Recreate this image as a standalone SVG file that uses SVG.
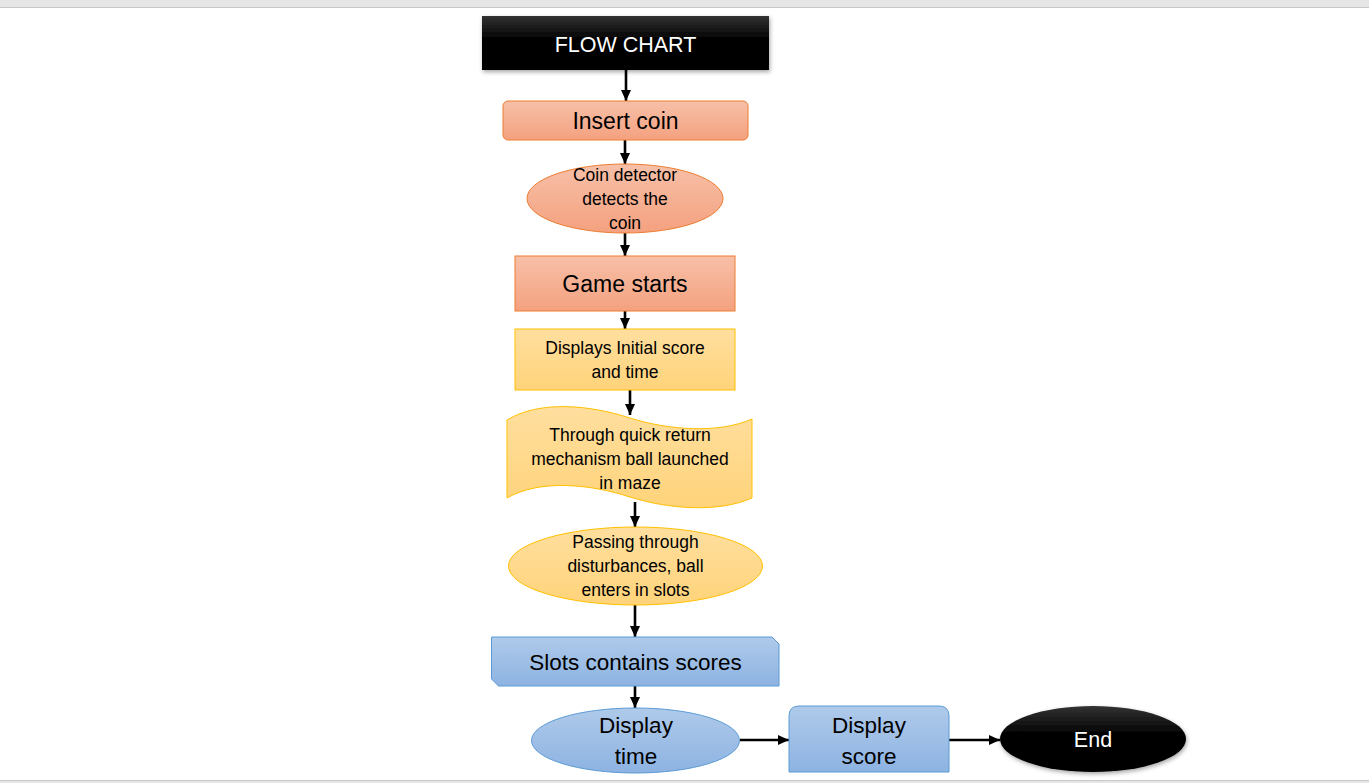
<svg xmlns="http://www.w3.org/2000/svg" width="1369" height="783" viewBox="0 0 1369 783">
<defs>
<linearGradient id="gBlack" x1="0" y1="0" x2="0" y2="1"><stop offset="0" stop-color="#333"/><stop offset="0.4" stop-color="#050505"/><stop offset="1" stop-color="#000"/></linearGradient>
<linearGradient id="gOrange" x1="0" y1="0" x2="0" y2="1"><stop offset="0" stop-color="#f7c0a8"/><stop offset="1" stop-color="#f4a17f"/></linearGradient>
<linearGradient id="gYellow" x1="0" y1="0" x2="0" y2="1"><stop offset="0" stop-color="#ffdf9f"/><stop offset="1" stop-color="#ffd37a"/></linearGradient>
<linearGradient id="gBlue" x1="0" y1="0" x2="0" y2="1"><stop offset="0" stop-color="#afcaea"/><stop offset="1" stop-color="#8db3e2"/></linearGradient>
<filter id="shadow" x="-10%" y="-20%" width="120%" height="150%"><feDropShadow dx="1" dy="2" stdDeviation="2" flood-color="#000" flood-opacity="0.35"/></filter>
<marker id="arr" markerUnits="userSpaceOnUse" markerWidth="12" markerHeight="12" viewBox="0 0 12 12" refX="11" refY="6" orient="auto"><path d="M0,1 L11,6 L0,11 Z" fill="#000"/></marker>
<style>
.t{font-family:"Liberation Sans",Arial,sans-serif;fill:#000;text-anchor:middle}
.w{fill:#fff}
.or{fill:url(#gOrange);stroke:#ed7d31;stroke-width:1}
.ye{fill:url(#gYellow);stroke:#ffc000;stroke-width:1}
.bl{fill:url(#gBlue);stroke:#5b9bd5;stroke-width:1}
.bk{fill:url(#gBlack);filter:url(#shadow)}
.c{stroke:#000;stroke-width:2.6;fill:none;marker-end:url(#arr)}
</style>
</defs>
<rect x="0" y="0" width="1369" height="783" fill="#fff"/>
<rect x="0" y="0" width="1369" height="7" fill="#e6e6e6"/>
<rect x="0" y="7" width="1369" height="1" fill="#c8c8c8"/>
<rect x="0" y="780" width="1369" height="1" fill="#c8c8c8"/>
<rect x="0" y="781" width="1369" height="2" fill="#e6e6e6"/>

<g id="connectors">
<line class="c" x1="626" y1="70" x2="626" y2="101"/>
<line class="c" x1="625" y1="140" x2="625" y2="164"/>
<line class="c" x1="625" y1="233" x2="625" y2="256"/>
<line class="c" x1="625" y1="311" x2="625" y2="329"/>
<line class="c" x1="630" y1="390" x2="630" y2="415"/>
<line class="c" x1="635" y1="502" x2="635" y2="527"/>
<line class="c" x1="635" y1="605" x2="635" y2="637"/>
<line class="c" x1="635" y1="686" x2="635" y2="708"/>
<line class="c" x1="740" y1="740" x2="789" y2="740"/>
<line class="c" x1="949" y1="740" x2="1000" y2="740"/>
</g>

<g id="flowchart">
<rect class="bk" x="482" y="16" width="287" height="54"/>
<text class="t w" x="625.5" y="52" font-size="21.5">FLOW CHART</text>
</g>

<g id="insert-coin">
<rect class="or" x="503" y="101" width="245" height="39" rx="5"/>
<text class="t" x="625.5" y="129" font-size="23">Insert coin</text>
</g>

<g id="coin-detector">
<ellipse class="or" cx="625" cy="198.5" rx="98" ry="34.5"/>
<text class="t" x="625" y="181" font-size="17.5">Coin detector</text>
<text class="t" x="625" y="205" font-size="17.5">detects the</text>
<text class="t" x="625" y="229" font-size="17.5">coin</text>
</g>

<g id="game-starts">
<rect class="or" x="515" y="256" width="220" height="55"/>
<text class="t" x="625" y="292" font-size="23">Game starts</text>
</g>

<g id="displays-initial">
<rect class="ye" x="515" y="329" width="220" height="61"/>
<text class="t" x="625" y="354" font-size="17.5">Displays Initial score</text>
<text class="t" x="625" y="378" font-size="17.5">and time</text>
</g>

<g id="quick-return">
<path class="ye" d="M507,420 C540,400 590,405 630,418 C668,430 718,434 752,419 L752,498 C718,513 668,509 630,497 C590,484 540,479 507,498 Z"/>
<text class="t" x="630" y="441" font-size="17.5">Through quick return</text>
<text class="t" x="630" y="465" font-size="17.5">mechanism ball launched</text>
<text class="t" x="630" y="489" font-size="17.5">in maze</text>
</g>

<g id="passing">
<ellipse class="ye" cx="635.5" cy="566" rx="127" ry="39"/>
<text class="t" x="635.5" y="548" font-size="17.5">Passing through</text>
<text class="t" x="635.5" y="572" font-size="17.5">disturbances, ball</text>
<text class="t" x="635.5" y="596" font-size="17.5">enters in slots</text>
</g>

<g id="slots">
<path class="bl" d="M491.5,637 L772,637 L779,644 L779,686 L498.5,686 L491.5,679 Z"/>
<text class="t" x="635.5" y="670" font-size="22.5">Slots contains scores</text>
</g>

<g id="display-time">
<ellipse class="bl" cx="635.5" cy="740.5" rx="104" ry="32.5"/>
<text class="t" x="636" y="733" font-size="22.5">Display</text>
<text class="t" x="636" y="764" font-size="22.5">time</text>
</g>

<g id="display-score">
<path class="bl" d="M789,772 L789,716 Q789,706 799,706 L939,706 Q949,706 949,716 L949,772 Z"/>
<text class="t" x="869" y="733" font-size="22.5">Display</text>
<text class="t" x="869" y="764" font-size="22.5">score</text>
</g>

<g id="end">
<ellipse class="bk" cx="1093" cy="739" rx="93" ry="33"/>
<text class="t w" x="1093" y="747" font-size="21.5">End</text>
</g>
</svg>
